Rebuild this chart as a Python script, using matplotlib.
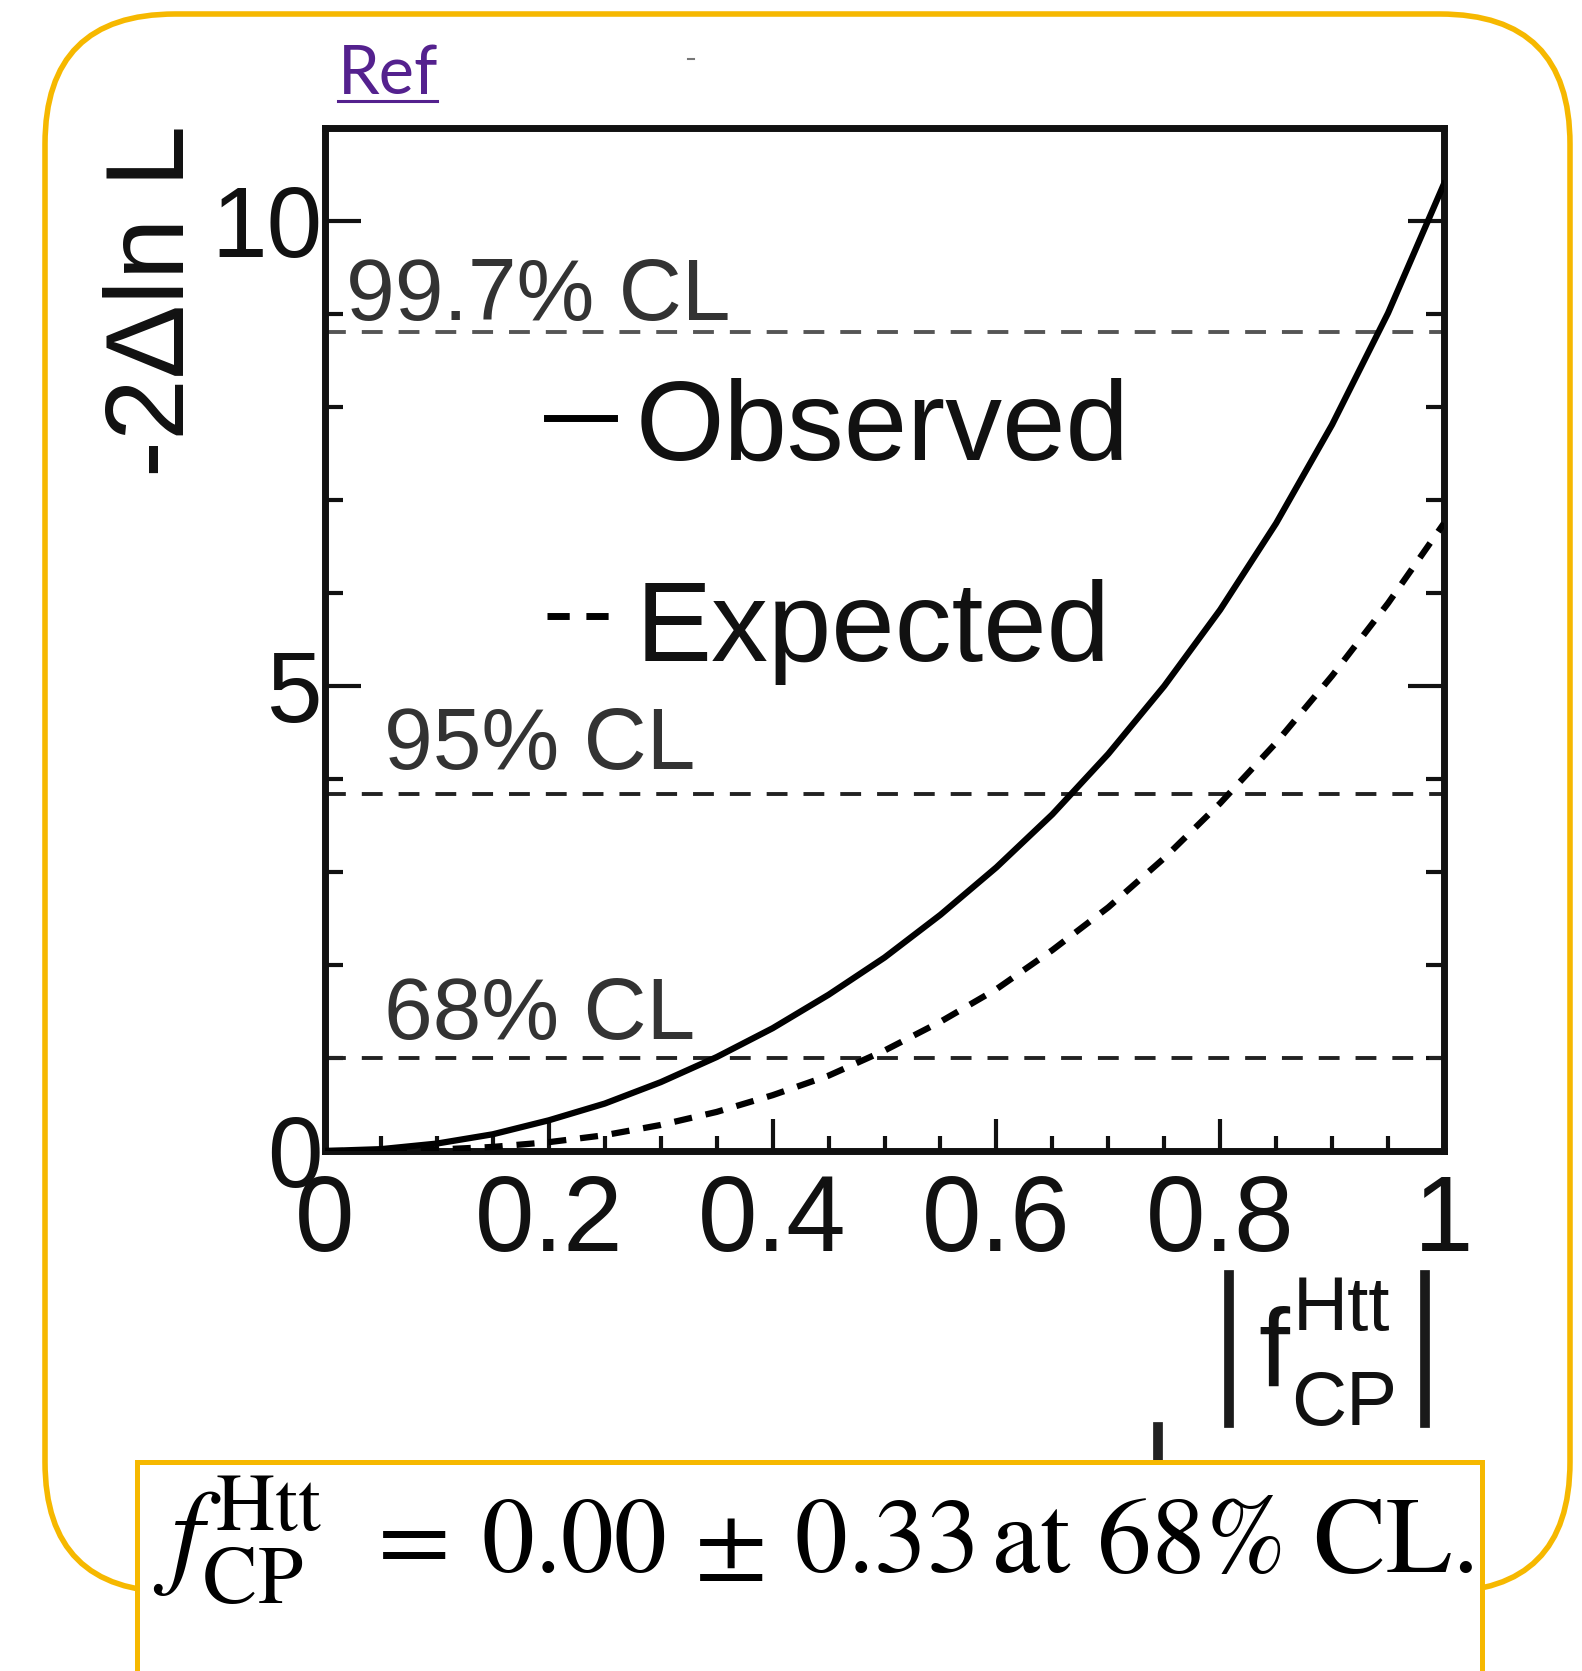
import matplotlib
matplotlib.use("Agg")
import matplotlib.pyplot as plt
from matplotlib.lines import Line2D
from matplotlib.patches import FancyBboxPatch, Rectangle
from matplotlib.ticker import MultipleLocator

W, H, DPI = 1582, 1671, 100

### DATA ###
f_cp = [0.0, 0.05, 0.1, 0.15, 0.2, 0.25, 0.3, 0.35, 0.4, 0.45, 0.5,
        0.55, 0.6, 0.65, 0.7, 0.75, 0.8, 0.85, 0.9, 0.95, 1.0]
observed = [0.0, 0.02, 0.08, 0.18, 0.33, 0.51, 0.74, 1.01, 1.32, 1.68, 2.08,
            2.54, 3.05, 3.62, 4.27, 5.00, 5.82, 6.75, 7.81, 9.01, 10.4]
expected = [0.0, 0.002, 0.015, 0.044, 0.095, 0.17, 0.28, 0.42, 0.60, 0.81, 1.08,
            1.39, 1.74, 2.16, 2.62, 3.15, 3.74, 4.39, 5.11, 5.89, 6.75]

cl_levels = [1.0, 3.84, 8.81]
cl_labels = ["68% CL", "95% CL", "99.7% CL"]

x_ticks = [0, 0.2, 0.4, 0.6, 0.8, 1]
x_ticklabels = ["0", "0.2", "0.4", "0.6", "0.8", "1"]
y_ticks = [0, 5, 10]
y_ticklabels = ["0", "5", "10"]
legend_labels = ["Observed", "Expected"]

gold = "#F6B800"

plt.rcParams["font.family"] = ["Liberation Sans", "DejaVu Sans"]
plt.rcParams["lines.scale_dashes"] = False

fig = plt.figure(figsize=(W / DPI, H / DPI), dpi=DPI)
fig.patch.set_facecolor("white")
inch = fig.dpi_scale_trans


def at(x, y):
    # pixel position in the 1582x1671 picture -> inches from bottom left
    return x / DPI, (H - y) / DPI


### SLIDE FRAME ###
x0, y0 = at(45, 1592)
fig.add_artist(FancyBboxPatch((x0, y0), (1570 - 45) / DPI, (1592 - 14) / DPI,
                              boxstyle="round,pad=0,rounding_size=1.3",
                              transform=inch, fill=False, ec=gold, lw=4, zorder=1))

fig.text(*at(338, 94), "Ref", transform=inch, fontsize=48, color="#54218E",
         family=["Lato", "DejaVu Sans"], va="baseline", ha="left")
fig.add_artist(Line2D([338 / DPI, 437 / DPI], [at(0, 101)[1]] * 2,
                      transform=inch, color="#54218E", lw=2.2))
fig.add_artist(Line2D([688 / DPI, 694 / DPI], [at(0, 59)[1]] * 2,
                      transform=inch, color="#777777", lw=1.5))

### PLOT ###
ax = fig.add_axes([325 / W, 1 - 1151 / H, 1119 / W, 1023 / H])
ax.set_xlim(0, 1)
ax.set_ylim(0, 11)

cl_colors = ["#222222", "#222222", "#555555"]
cl_text_pos = [(0.053, 1.20), (0.053, 4.11), (0.019, 8.94)]
for lvl, lab, col, (tx, ty) in zip(cl_levels, cl_labels, cl_colors, cl_text_pos):
    ax.axhline(lvl, color=col, lw=2.8, dashes=(15, 11.5), zorder=2)
    ax.text(tx, ty, lab, fontsize=63, color="#333333", va="baseline", ha="left")

obs_line, = ax.plot(f_cp, observed, color="black", lw=4.5, zorder=3,
                    solid_joinstyle="round")
exp_line, = ax.plot(f_cp, expected, color="black", lw=4.5, dashes=(13, 10), zorder=3)

ax.set_xticks(x_ticks)
ax.set_xticklabels(x_ticklabels)
ax.set_yticks(y_ticks)
ax.set_yticklabels(y_ticklabels)
ax.xaxis.set_minor_locator(MultipleLocator(0.05))
ax.yaxis.set_minor_locator(MultipleLocator(1))
ax.tick_params(which="both", direction="in", right=True, top=False,
               width=3, color="#111111", labelcolor="#111111")
ax.tick_params(axis="x", which="major", length=23, labelsize=77, pad=16)
ax.tick_params(axis="x", which="minor", length=11)
ax.tick_params(axis="y", which="major", length=26, labelsize=72, pad=2)
ax.tick_params(axis="y", which="minor", length=13)
for sp in ax.spines.values():
    sp.set_linewidth(5)
    sp.set_color("#111111")

# y title, ROOT style
fig.text(*at(155, 301), "-2\u0394ln L", transform=inch, fontsize=80,
         rotation=90, ha="center", va="center", color="#111111")

# x title |f_CP^Htt|
for bx in (1229, 1425):
    fig.add_artist(Line2D([bx / DPI] * 2, [at(0, 1275)[1], at(0, 1423)[1]],
                          transform=inch, color="#1a1a1a", lw=7))
fig.text(*at(1258, 1387), "f", transform=inch, fontsize=80, va="baseline",
         color="#111111")
fig.text(*at(1293, 1330), "Htt", transform=inch, fontsize=55, va="baseline",
         color="#111111")
fig.text(*at(1291, 1425), "CP", transform=inch, fontsize=55, va="baseline",
         color="#111111")

# legend
legend_rows = [(obs_line, 418, 460), (exp_line, 616, 661)]
for (line, ly, tb), lab in zip(legend_rows, legend_labels):
    fig.add_artist(Line2D([547 / DPI, 614 / DPI], [at(0, ly)[1]] * 2,
                          transform=inch, color=line.get_color(), lw=5,
                          linestyle=line.get_linestyle(),
                          dashes=(16, 12) if line is exp_line else (None, None)))
    fig.text(*at(636, tb), lab, transform=inch, fontsize=82, va="baseline",
             color="#111111")

# little stub under the plot
fig.add_artist(Line2D([1158 / DPI] * 2, [at(0, 1427)[1], at(0, 1460)[1]],
                      transform=inch, color="#222222", lw=7))

### RESULT BOX ###
bx0, by0 = at(137, 1700)
fig.add_artist(Rectangle((bx0, by0), (1482 - 137) / DPI, (1700 - 1462) / DPI,
                         transform=inch, fc="white", ec=gold, lw=3.6, zorder=2))
box_text = dict(transform=inch, va="baseline", ha="left", color="black", zorder=3,
                family="STIXGeneral", math_fontfamily="stix")
fig.text(*at(153, 1572), r"$f^{\mathrm{Htt}}_{\mathrm{CP}}$", fontsize=84, **box_text)
fig.text(*at(362, 1572), r"$=\:0.00\,\pm\,0.33$", fontsize=76, **box_text)
fig.text(*at(992, 1572), "at 68% CL.", fontsize=78, **box_text)

fig.savefig("out.png", dpi=DPI)
